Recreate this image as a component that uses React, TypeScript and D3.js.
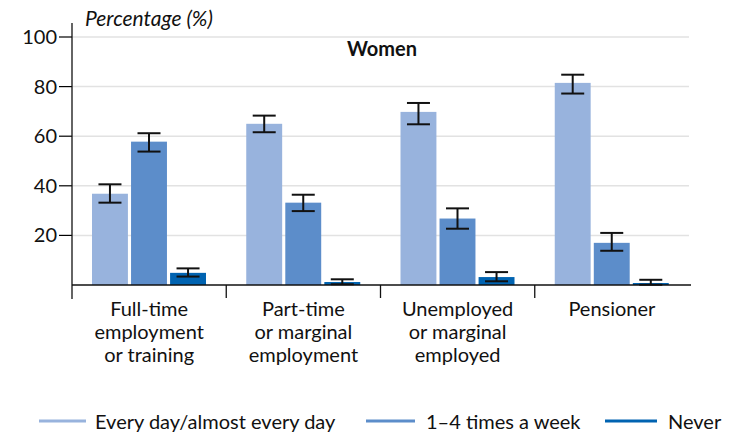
import React from 'react';
import {scaleBand, scaleLinear} from 'd3';

// values (women, %)
const categories = [
    ['Full-time', 'employment', 'or training'],
    ['Part-time', 'or marginal', 'employment'],
    ['Unemployed', 'or marginal', 'employed'],
    ['Pensioner'],
];
const series = ['Every day/almost every day', '1–4 times a week', 'Never'];
const colors = ['#98b3dd', '#5c8dca', '#0063b1'];
const values = [
    [36.8, 57.8, 4.9],
    [65.0, 33.2, 1.2],
    [69.8, 26.8, 3.2],
    [81.5, 17.0, 0.8],
];
const lower = [
    [33.2, 53.8, 3.4],
    [61.6, 29.8, 0.3],
    [64.8, 22.7, 1.5],
    [77.2, 13.8, 0.1],
];
const upper = [
    [40.6, 61.2, 6.7],
    [68.3, 36.4, 2.3],
    [73.4, 30.9, 5.2],
    [84.8, 21.0, 2.1],
];
const yTicks = [20, 40, 60, 80, 100];

const font = 'Lato, "Open Sans", sans-serif';

export default function App() {
    const width = 740, height = 434;
    const left = 72, right = 689, top = 37, bottom = 285;

    const x = scaleBand().domain(categories.map((_, i) => String(i))).range([left, right]);
    const inner = scaleBand().domain(series).range([20, 134]).paddingInner(0.08);
    const y = scaleLinear().domain([0, 100]).range([bottom, top]);
    const capW = 23;

    // legend: sample line start / text start
    const legendLine = [39, 366, 605];
    const legendLen = [47, 49, 52];
    const legendText = [95, 426, 668];

    return (
        <svg width={width} height={height} style={{position: 'absolute', left: 0, top: 0}}
             fontFamily={font}>
            {yTicks.map(t => (
                <g key={t}>
                    <line x1={left} x2={right} y1={y(t)} y2={y(t)} stroke="#e2e2e2" strokeWidth={1.5}/>
                    <line x1={59} x2={left} y1={y(t)} y2={y(t)} stroke="#000" strokeWidth={1.2}/>
                    <text x={57} y={y(t) + 7} textAnchor="end" fontSize={20} fill="#111">{t}</text>
                </g>
            ))}
            <text x={85} y={26} fontSize={21} fontStyle="italic" fill="#111">Percentage (%)</text>
            <text x={382} y={56} fontSize={20} fontWeight="bold" textAnchor="middle" fill="#111">Women</text>

            {values.map((row, gi) => (
                <g key={gi} transform={`translate(${x(String(gi))},0)`}>
                    {row.map((v, si) => {
                        const bx = inner(series[si]);
                        const cx = bx + inner.bandwidth() / 2;
                        return (
                            <g key={si}>
                                <rect x={bx} width={inner.bandwidth()} y={y(v)} height={bottom - y(v)} fill={colors[si]}/>
                                <line x1={cx} x2={cx} y1={y(upper[gi][si])} y2={y(lower[gi][si])} stroke="#111" strokeWidth={2}/>
                                <line x1={cx - capW / 2} x2={cx + capW / 2} y1={y(upper[gi][si])} y2={y(upper[gi][si])} stroke="#111" strokeWidth={2}/>
                                <line x1={cx - capW / 2} x2={cx + capW / 2} y1={y(lower[gi][si])} y2={y(lower[gi][si])} stroke="#111" strokeWidth={2}/>
                            </g>
                        );
                    })}
                </g>
            ))}

            <line x1={left} x2={left} y1={23} y2={299} stroke="#111" strokeWidth={1.3}/>
            <line x1={left} x2={right + 2} y1={bottom} y2={bottom} stroke="#111" strokeWidth={1.3}/>
            {categories.slice(1).map((_, i) => {
                const px = x(String(i + 1));
                return <line key={i} x1={px} x2={px} y1={bottom} y2={298} stroke="#111" strokeWidth={1.3}/>;
            })}
            {categories.map((lines, gi) => (
                <text key={gi} x={x(String(gi)) + x.bandwidth() / 2} y={316} textAnchor="middle" fontSize={20} fill="#111">
                    {lines.map((l, li) => (
                        <tspan key={li} x={x(String(gi)) + x.bandwidth() / 2} dy={li === 0 ? 0 : 23}>{l}</tspan>
                    ))}
                </text>
            ))}

            {series.map((s, i) => (
                <g key={s}>
                    <line x1={legendLine[i]} x2={legendLine[i] + legendLen[i]} y1={421} y2={421} stroke={colors[i]} strokeWidth={3}/>
                    <text x={legendText[i]} y={429} fontSize={20} fill="#111">{s}</text>
                </g>
            ))}
        </svg>
    );
}
